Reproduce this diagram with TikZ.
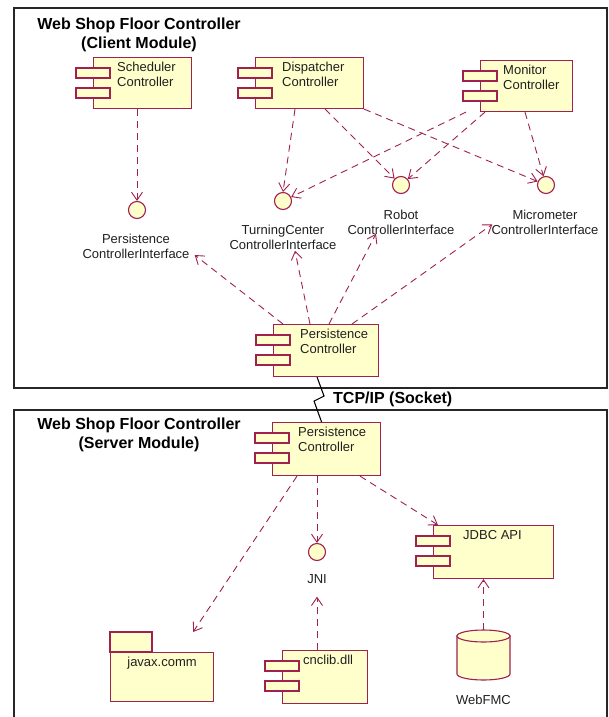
\documentclass[tikz,border=0pt]{standalone}
\usepackage{fontspec}
\setmainfont{Liberation Sans}
\usetikzlibrary{arrows.meta,calc}
\definecolor{umlline}{HTML}{A02050}
\definecolor{umlfill}{HTML}{FFFFCC}
\definecolor{inktext}{HTML}{202020}
\tikzset{
  compbody/.style={rectangle, draw=umlline, fill=umlfill, line width=1.1pt, inner sep=0pt},
  comptab/.style={draw=umlline, fill=umlfill, line width=1.1pt},
  comptext/.style={font=\fontsize{13}{15}\selectfont, align=left, inner sep=0pt, text=inktext},
  ifacecircle/.style={circle, draw=umlline, fill=umlfill, line width=1.1pt, minimum size=17pt, inner sep=0pt},
  ifacelabel/.style={font=\fontsize{13}{15}\selectfont, align=center, inner sep=3pt, text=inktext},
  dep/.style={draw=umlline, line width=0.9pt, dash pattern=on 7pt off 5pt,
              -{Straight Barb[length=8pt,width=11pt]}},
  frame/.style={draw=black!85, line width=1.4pt},
  heading/.style={font=\fontsize{16}{19}\selectfont\bfseries, align=center, inner sep=0pt, text=black},
}
% UML component: name, left, top, width, height, text x offset, text
\newcommand\umlcomponent[7]{%
  \node[compbody, minimum width=#4, minimum height=#5, anchor=north west] (#1) at (#2,#3) {};
  \draw[comptab] ($(#1.north west)+(-17,11)$) rectangle ++(34,10);
  \draw[comptab] ($(#1.north west)+(-17,31)$) rectangle ++(34,10);
  \node[comptext, anchor=north west] (#1-t) at ($(#1.north west)+(#6,5)$) {#7};
}
\begin{document}
\begin{tikzpicture}[x=1pt,y=-1pt]
\useasboundingbox (0,0) rectangle (608,717);
\clip (0,0) rectangle (608,717);

% module frames
\draw[frame] (14,8) rectangle (607,388);
\draw[frame] (14,730) -- (14,410) -- (607,410) -- (607,730);
\node[heading] (clienttitle) at (139,35) {Web Shop Floor Controller\\(Client Module)};
\node[heading] (servertitle) at (139,434.5) {Web Shop Floor Controller\\(Server Module)};

% client components
\umlcomponent{sched}{93}{57}{98}{51}{24}{Scheduler\\Controller}
\umlcomponent{disp}{255}{57}{108}{51}{27}{Dispatcher\\Controller}
\umlcomponent{mon}{480}{60}{92}{51}{23}{Monitor\\Controller}
\umlcomponent{pcc}{273}{324}{105}{52}{27}{Persistence\\Controller}

% client interfaces
\node[ifacecircle] (pci) at (137,210) {};
\node[ifacecircle] (tci) at (283,201) {};
\node[ifacecircle] (rci) at (401,185) {};
\node[ifacecircle] (mci) at (546,185) {};
\node[ifacelabel] (pcil) at (136,246) {Persistence\\ControllerInterface};
\node[ifacelabel] (tcil) at (283,237.3) {TurningCenter\\ControllerInterface};
\node[ifacelabel] (rcil) at (401,222.3) {Robot\\ControllerInterface};
\node[ifacelabel] (mcil) at (545,222.3) {Micrometer\\ControllerInterface};

% client dependencies
\draw[dep] (pci |- sched.south) -- (pci.north);
\draw[dep] ($(disp.south west)+(40,0)$) -- (tci.north);
\draw[dep] ($(disp.south west)+(70,0)$) -- (rci);
\draw[dep] (disp.south east) -- (mci);
\draw[dep] ($(mon.south west)+(-14,0)$) -- (tci);
\draw[dep] ($(mon.south west)+(5,0)$) -- (rci);
\draw[dep] ($(mon.south west)+(45,0)$) -- (mci);
\draw[dep] ($(pcc.north west)+(10,0)$) -- ($(pcil.east)+(2,9)$);
\draw[dep] ($(pcc.north west)+(37,0)$) -- ($(tcil.south)+(12,-2)$);
\draw[dep] ($(pcc.north west)+(56,0)$) -- ($(rcil.south)+(-25,-4)$);
\draw[dep] ($(pcc.north west)+(79,0)$) -- ($(mcil.west)+(4,2)$);

% server components
\umlcomponent{pcs}{272}{422}{108}{53}{26}{Persistence\\Controller}
\umlcomponent{jdbc}{433}{525}{120}{53}{30}{JDBC API}
\umlcomponent{cnc}{282}{650}{85}{53}{21}{cnclib.dll}

% javax.comm package
\draw[comptab] (110,632) rectangle (152,652);
\node[compbody, minimum width=103, minimum height=49, anchor=north west] (javax) at (110,652) {};
\node[comptext, anchor=north] (javax-t) at ($(javax.north)+(0,5)$) {javax.comm};

% JNI interface
\node[ifacecircle] (jni) at (317,552) {};
\node[ifacelabel] (jnil) at (317,579.5) {JNI};

% WebFMC database
\node[minimum width=53, minimum height=50, inner sep=0pt] (db) at (483.5,655) {};
\path[draw=umlline, fill=umlfill, line width=1.1pt]
  (457,636) -- (457,674) arc[start angle=180, end angle=0, x radius=26.5, y radius=6] -- (510,636) -- cycle;
\path[draw=umlline, fill=umlfill, line width=1.1pt] (483.5,636) ellipse [x radius=26.5, y radius=6];
\node[ifacelabel] (dbl) at (483.5,700) {WebFMC};

% server dependencies
\draw[dep] ($(pcs.south west)+(25,0)$) -- ($(javax.north east)+(-21,-20)$);
\draw[dep] (jni |- pcs.south) -- (jni.north);
\draw[dep] ($(pcs.south west)+(88,0)$) -- ($(jdbc.north west)+(5,0)$);
\draw[dep] (jnil |- cnc.north) -- ($(jnil.south)+(0,9.5)$);
\draw[dep] (db.north) -- (db.north |- jdbc.south);

% socket link between the two persistence controllers
\draw[black, line width=1.1pt] ($(pcc.south)+(-9,0)$) -- ++(7,19) -- ++(-10,5) -- ($(pcs.north)+(-5,0)$);
\node[heading, anchor=west] (tcp) at (333,399) {TCP/IP (Socket)};
\end{tikzpicture}
\end{document}
